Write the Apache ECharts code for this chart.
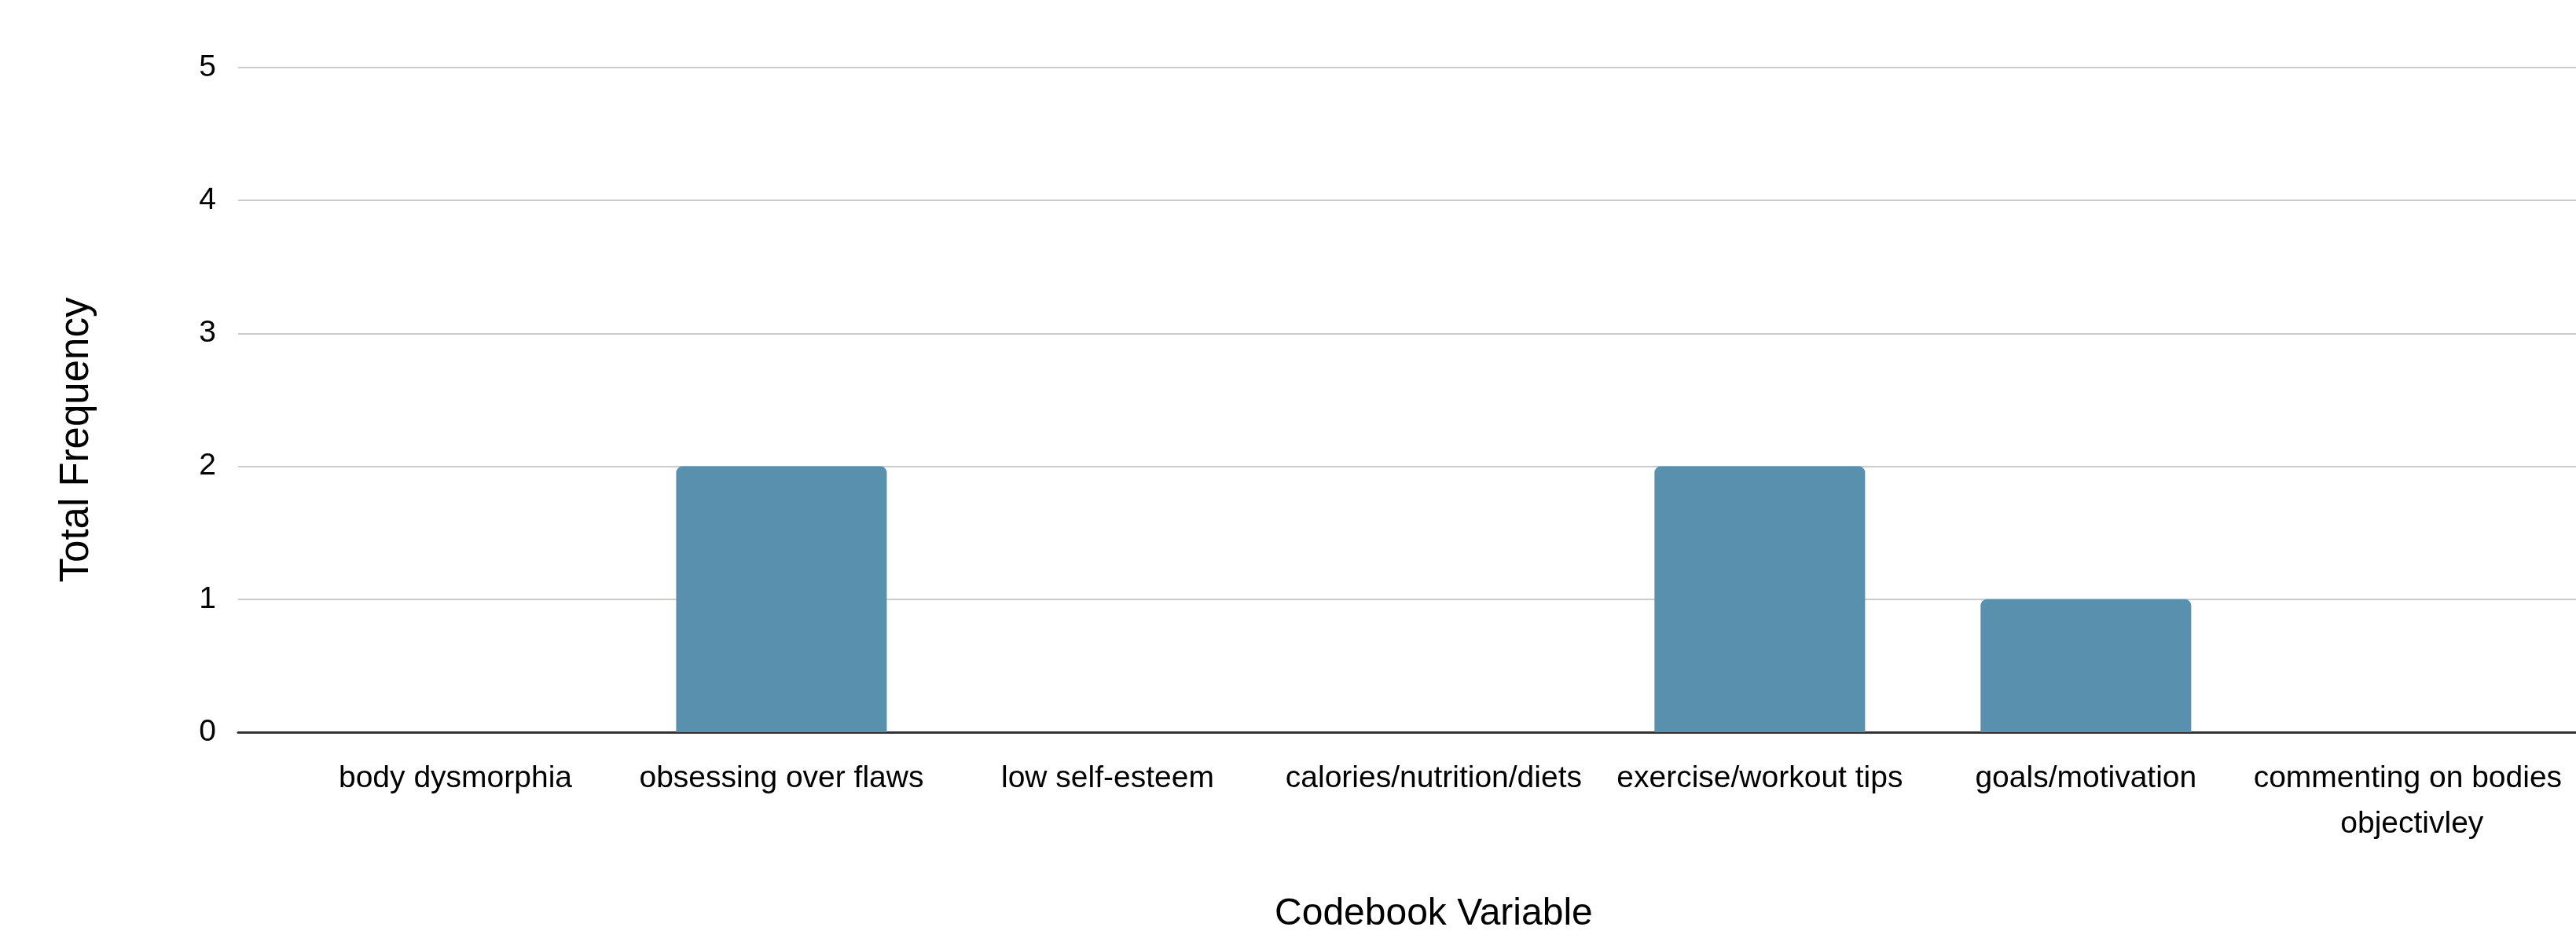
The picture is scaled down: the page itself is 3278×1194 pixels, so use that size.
<!DOCTYPE html>
<html>
<head>
<meta charset="utf-8">
<script src="https://cdn.jsdelivr.net/npm/echarts@6/dist/echarts.min.js"></script>
<style>
  html, body { margin: 0; padding: 0; background: #ffffff; }
  #chart { width: 3278px; height: 1194px; }
</style>
</head>
<body>
<div id="chart"></div>
<script>
// Codebook variables and how often each one was coded
const categories = [
  'body dysmorphia',
  'obsessing over flaws',
  'low self-esteem',
  'calories/nutrition/diets',
  'exercise/workout tips',
  'goals/motivation',
  'commenting on bodies objectivley'
];
const frequencies = [0, 2, 0, 0, 2, 1, 0];
const yTicks = [0, 1, 2, 3, 4, 5];

const xTitle = 'Codebook Variable';
const yTitle = 'Total Frequency';

const FONT = '"Liberation Sans", Arial, sans-serif';
const TEXT_COLOR = '#000000';
const BAR_COLOR = '#5890ad';

const chart = echarts.init(document.getElementById('chart'), null, { renderer: 'canvas' });

chart.setOption({
  backgroundColor: '#ffffff',
  animation: false,
  grid: [
    // frame carrying the value scale, gridlines and baseline
    { left: 303, right: 0, top: 86, height: 846 },
    // frame carrying the category bands and bars
    { left: 372, width: 2909, top: 86, height: 846 }
  ],
  xAxis: [
    {
      gridIndex: 0,
      type: 'value',
      min: 0,
      max: 1,
      axisLine: { show: true, lineStyle: { color: '#333333', width: 3 } },
      axisTick: { show: false },
      axisLabel: { show: false },
      splitLine: { show: false }
    },
    {
      gridIndex: 1,
      type: 'category',
      data: categories,
      boundaryGap: true,
      axisLine: { show: false },
      axisTick: { show: false },
      axisLabel: {
        interval: 0,
        margin: 30,
        color: TEXT_COLOR,
        fontFamily: FONT,
        fontSize: 39,
        lineHeight: 58,
        width: 412,
        overflow: 'break'
      },
      name: xTitle,
      nameLocation: 'middle',
      nameGap: 208,
      nameTextStyle: {
        color: TEXT_COLOR,
        fontFamily: FONT,
        fontSize: 48,
        verticalAlign: 'top'
      }
    }
  ],
  yAxis: [
    {
      gridIndex: 0,
      type: 'value',
      min: yTicks[0],
      max: yTicks[yTicks.length - 1],
      interval: 1,
      axisLine: { show: false },
      axisTick: { show: false },
      axisLabel: {
        margin: 28,
        color: TEXT_COLOR,
        fontFamily: FONT,
        fontSize: 39
      },
      splitLine: { show: true, lineStyle: { color: '#cccccc', width: 2 } },
      name: yTitle,
      nameLocation: 'middle',
      nameGap: 180,
      nameRotate: 90,
      nameTextStyle: {
        color: TEXT_COLOR,
        fontFamily: FONT,
        fontSize: 51,
        padding: [0, 102, 0, 0]
      }
    },
    {
      gridIndex: 1,
      type: 'value',
      min: yTicks[0],
      max: yTicks[yTicks.length - 1],
      interval: 1,
      show: false,
      splitLine: { show: false }
    }
  ],
  series: [
    {
      type: 'bar',
      xAxisIndex: 1,
      yAxisIndex: 1,
      data: frequencies,
      barWidth: 268,
      itemStyle: { color: BAR_COLOR, borderRadius: [8, 8, 0, 0] }
    }
  ]
});
</script>
</body>
</html>
